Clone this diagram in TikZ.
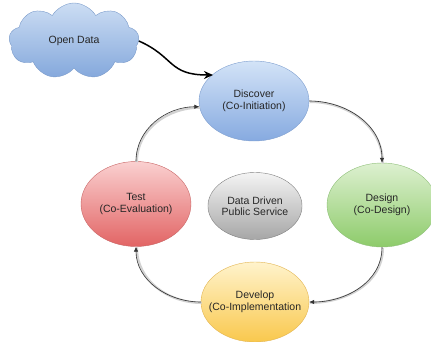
\documentclass[tikz,border=0pt]{standalone}
\usepackage{fontspec}
\setmainfont{Liberation Sans}
\usetikzlibrary{shapes,arrows.meta,positioning}

\definecolor{discovertop}{HTML}{D3E3F7}
\definecolor{discoverbot}{HTML}{86AAE0}
\definecolor{discoverline}{HTML}{7F9FCF}
\definecolor{designtop}{HTML}{DDF0D0}
\definecolor{designbot}{HTML}{8DCB6A}
\definecolor{designline}{HTML}{8EBF78}
\definecolor{developtop}{HTML}{FFF3CC}
\definecolor{developbot}{HTML}{F9C84D}
\definecolor{developline}{HTML}{E2B450}
\definecolor{testtop}{HTML}{FAD0D0}
\definecolor{testbot}{HTML}{E26464}
\definecolor{testline}{HTML}{C86666}
\definecolor{servicetop}{HTML}{F4F4F4}
\definecolor{servicebot}{HTML}{A6A6A6}
\definecolor{serviceline}{HTML}{7F7F7F}
\definecolor{cloudtop}{HTML}{CCDDF3}
\definecolor{cloudbot}{HTML}{84A8DC}
\definecolor{cloudline}{HTML}{7C9CCB}

\begin{document}
\begin{tikzpicture}
            [
                x=1pt, y=1pt,
                every node/.style={font=\fontsize{10.5}{11.5}\selectfont, align=center, text=black!85},
                phase/.style={ellipse, draw=#1line, top color=#1top, bottom color=#1bot, thin, minimum width=110pt, minimum height=80pt, inner sep=0pt},
                datacloud/.style={cloud, cloud puffs=9, cloud puff arc=120, aspect=1.7, draw=cloudline, top color=cloudtop, bottom color=cloudbot, thin, minimum width=130pt, minimum height=76pt, inner sep=0pt},
                cycleline/.style={black!80, line width=0.6pt, -{Latex[length=5pt,width=4.5pt]},
                    preaction={draw=gray!35, line width=2.4pt, -, transform canvas={shift={(0.8pt,-0.8pt)}}}},
                feedline/.style={black, line width=1.5pt, -{Stealth[length=9pt,width=8pt]}},
            ]
            \useasboundingbox (0,0) rectangle (431,341);

            %% SOURCE
            \node[datacloud] (opendata) at (74,300) {Open Data};

            %% CYCLE
            \node[phase=discover] (discover) at (254,240) {Discover\\(Co-Initiation)};
            \node[phase=design] (design) at (382,136) [minimum height=84pt] {Design\\(Co-Design)};
            \node[phase=develop] (develop) at (255,39) [minimum width=108pt, inner xsep=-9pt] {Develop\\(Co-Implementation};
            \node[phase=test] (test) at (136,137) [minimum height=85pt] {Test\\(Co-Evaluation)};

            %% CENTRE
            \node[phase=service] (service) at (255,135) [minimum width=94pt, minimum height=67pt] {Data Driven\\Public Service};

            %% ARROWS
            \draw[feedline] (opendata.east) .. controls (175,284) and (168,266) .. (213,266);
            \draw[cycleline] (discover.east) to[out=0,in=90] (design.north);
            \draw[cycleline] (design.south) to[out=-90,in=0] (develop.east);
            \draw[cycleline] (develop.west) to[out=180,in=-90] (test.south);
            \draw[cycleline] (test.north) to[out=90,in=180] (discover.186);

        \end{tikzpicture}
\end{document}
